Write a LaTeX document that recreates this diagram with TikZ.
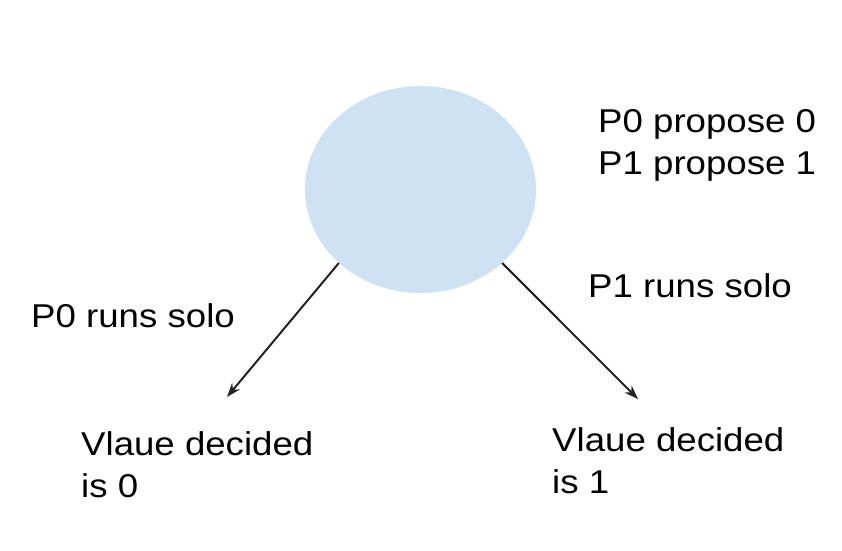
\documentclass[tikz,border=0pt]{standalone}
\usepackage{fontspec}
\setmainfont[FakeStretch=1.11]{Liberation Sans}
\usetikzlibrary{arrows.meta,shapes.geometric}
\definecolor{stateblue}{HTML}{CFE2F3}
\definecolor{edgegray}{HTML}{222222}
\tikzset{
	textlabel/.style={anchor=base west, inner sep=0, align=left, font=\fontsize{33}{42}\selectfont},
	run/.style={line width=2pt, draw=edgegray, -{Stealth[length=14pt, width=10pt]}}
}

\begin{document}
\begin{tikzpicture}[x=1pt, y=1pt]
			%%%%% START %%%%%
			
			\useasboundingbox (0, 0) rectangle (842, 550);
			
			\node[ellipse, fill=stateblue, minimum width=231, minimum height=207, inner sep=0] (start) at (420.5, 360.5) {};
			
			\node[textlabel] (propose) at (598, 376) {P0 propose 0\\P1 propose 1};
			\node[textlabel] (solo0) at (31, 223) {P0 runs solo};
			\node[textlabel] (solo1) at (588, 253) {P1 runs solo};
			
			\node[textlabel] (decided0) at (81, 53) {Vlaue decided\\is 0};
			\node[textlabel] (decided1) at (552, 57) {Vlaue decided\\is 1};
			
			\coordinate (end0) at (227, 153);
			\coordinate (end1) at (638, 151);
			
			\draw[run] (start.222) -- (end0);
			\draw[run] (start.318) -- (end1);
			
			%%%%% END %%%%%
		\end{tikzpicture}
\end{document}
